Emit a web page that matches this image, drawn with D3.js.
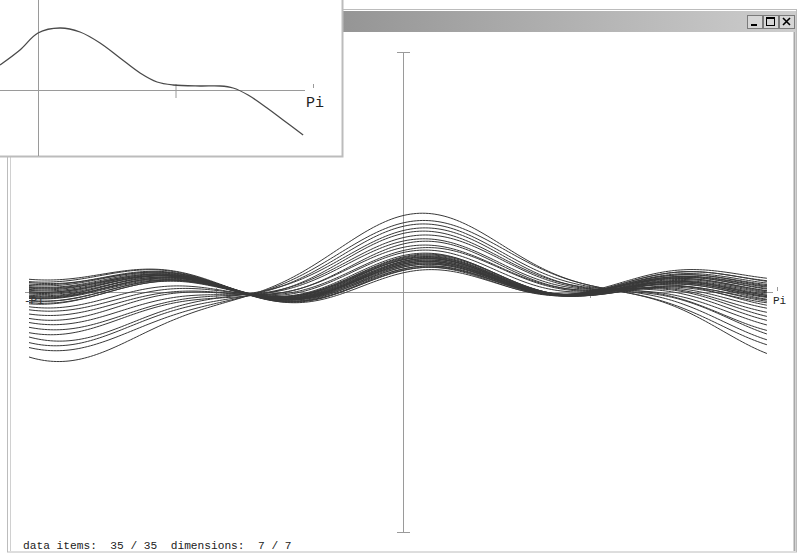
<!DOCTYPE html>
<html>
<head>
<meta charset="utf-8">
<script src="https://cdn.jsdelivr.net/npm/d3@7"></script>
<style>
  body { margin: 0; background: #fff; }
  svg { display: block; }
  text { font-family: "Liberation Mono", "DejaVu Sans Mono", monospace; fill: #222; }
</style>
</head>
<body>
<div id="chart"></div>
<script>
/*
 * Andrews curves of 35 items x 7 dimensions, drawn in an old style plot window.
 * f(t) = d1/sqrt2 + d2 sin t + d3 cos t + d4 sin 2t + d5 cos 2t + d6 sin 3t + d7 cos 3t
 */
(function() {
  // one array per dimension, one entry per data item
  var dim1 = [0.17, 0.31, 0.40, 0.48, 0.57, 0.64, 0.72, 0.79, 0.86, 0.92, 0.98, 1.49, 1.44, 1.41, 1.38, 1.35, 1.32, 1.29, 1.27, 1.24, 1.21, 1.23, 1.18, 1.15, 1.13, 1.10, 1.07, 1.04, 1.01, 0.98, 0.96, 0.93, 1.28, 1.12, 1.08];
  var dim2 = [1.55, 1.37, 1.24, 1.12, 1.01, 0.91, 0.79, 0.69, 0.60, 0.52, 0.43, 0.14, 0.10, 0.17, 0.12, 0.08, 0.15, 0.11, 0.13, 0.09, 0.12, 0.16, 0.10, 0.14, 0.11, 0.15, 0.09, 0.13, 0.17, 0.10, 0.14, 0.12, 0.18, 0.07, 0.15];
  var dim3 = [6.09, 5.36, 4.86, 4.41, 3.96, 3.57, 3.12, 2.72, 2.39, 2.05, 1.71, -0.62, -0.42, -0.32, -0.22, -0.12, -0.02, 0.08, 0.18, 0.28, 0.38, 0.40, 0.48, 0.58, 0.68, 0.78, 0.88, 0.98, 1.08, 1.18, 1.28, 1.38, 0.18, 0.68, 0.88];
  var dim4 = [-0.18, -0.01, -0.01, -0.06, 0.13, 0.12, 0.11, 0.22, 0.22, 0.32, 0.28, 0.43, 0.45, 0.39, 0.47, 0.42, 0.44, 0.41, 0.46, 0.43, 0.43, 0.40, 0.45, 0.42, 0.44, 0.41, 0.46, 0.43, 0.39, 0.47, 0.42, 0.44, 0.38, 0.48, 0.40];
  var dim5 = [0.45, 0.46, 0.47, 0.48, 0.49, 0.50, 0.51, 0.52, 0.52, 0.53, 0.54, 0.54, 0.59, 0.55, 0.57, 0.53, 0.58, 0.56, 0.54, 0.60, 0.56, 0.52, 0.58, 0.55, 0.57, 0.53, 0.59, 0.56, 0.54, 0.58, 0.55, 0.57, 0.61, 0.51, 0.55];
  var dim6 = [0.56, 0.47, 0.52, 0.63, 0.48, 0.55, 0.52, 0.58, 0.50, 0.56, 0.54, 0.56, 0.54, 0.59, 0.57, 0.53, 0.58, 0.55, 0.56, 0.60, 0.56, 0.52, 0.58, 0.54, 0.57, 0.55, 0.59, 0.53, 0.58, 0.56, 0.60, 0.54, 0.51, 0.61, 0.52];
  var dim7 = [0.98, 0.87, 0.95, 0.91, 1.00, 0.91, 0.95, 1.00, 0.94, 0.91, 1.00, 0.94, 0.99, 0.92, 0.97, 0.95, 1.00, 0.93, 1.00, 1.02, 1.00, 0.98, 1.03, 0.97, 1.01, 0.99, 1.04, 0.96, 1.02, 0.98, 1.00, 1.03, 0.95, 1.05, 1.01];

  // single curve shown in the small zoom window (t in radians, value)
  var insetT = [-0.434, -0.206, 0, 0.251, 0.48, 0.709, 0.937, 1.166, 1.36, 1.543, 1.851, 2.08, 2.229, 2.4, 2.617, 2.8, 3.029];
  var insetV = [2.5, 4.0, 5.7, 6.2, 5.8, 4.7, 3.2, 1.7, 0.8, 0.5, 0.4, 0.4, 0.2, -0.5, -1.8, -3.0, -4.5];

  var dims = [dim1, dim2, dim3, dim4, dim5, dim6, dim7];
  var items = dim1.map(function(d, i) {
    return dims.map(function(col) { return col[i]; });
  });

  var width = 800;
  var height = 554;
  var curveColor = '#383838';
  var axisColor = '#9a9a9a';
  var frameColor = '#bcbcbc';

  var svg = d3.select('#chart').append('svg').attr('width', width).attr('height', height);

  /*
   * Main window frame
   */
  var grad = svg.append('defs').append('linearGradient').attr('id', 'titleGrad');
  grad.append('stop').attr('offset', '0%').attr('stop-color', '#6c6c6c');
  grad.append('stop').attr('offset', '100%').attr('stop-color', '#cdcdcd');

  svg.append('rect')
    .attr('x', 7.5).attr('y', 9.5).attr('width', 789).attr('height', 542.5)
    .attr('fill', '#fff').attr('stroke', frameColor);
  svg.append('line')
    .attr('x1', 10.5).attr('x2', 10.5).attr('y1', 32).attr('y2', 551)
    .attr('stroke', '#d0d0d0');
  svg.append('line')
    .attr('x1', 794.5).attr('x2', 794.5).attr('y1', 32).attr('y2', 551)
    .attr('stroke', '#a8a8a8').attr('stroke-width', 2);
  svg.append('rect')
    .attr('x', 9).attr('y', 11).attr('width', 787).attr('height', 21)
    .attr('fill', 'url(#titleGrad)');

  var buttons = svg.append('g').attr('class', 'buttons');
  [747, 763, 779].forEach(function(bx, i) {
    var b = buttons.append('g').attr('transform', 'translate(' + bx + ',15)');
    b.append('rect').attr('x', 0.5).attr('y', 0.5).attr('width', 15).attr('height', 13)
      .attr('fill', '#d6d6d6').attr('stroke', '#7a7a7a');
    if (i === 0) {
      b.append('rect').attr('x', 4).attr('y', 9).attr('width', 6).attr('height', 2).attr('fill', '#000');
    } else if (i === 1) {
      b.append('rect').attr('x', 3.5).attr('y', 2.5).attr('width', 8).attr('height', 8)
        .attr('fill', 'none').attr('stroke', '#000');
      b.append('line').attr('x1', 3.5).attr('x2', 11.5).attr('y1', 3.5).attr('y2', 3.5).attr('stroke', '#000');
    } else {
      b.append('path').attr('d', 'M4,3L11,10M11,3L4,10').attr('stroke', '#000').attr('stroke-width', 1.6);
    }
  });

  /*
   * Main plot
   */
  var x = d3.scaleLinear().domain([-Math.PI, Math.PI]).range([29, 777]);
  var y = d3.scaleLinear().domain([-24, 24]).range([532, 52]);

  function andrews(row, t) {
    return row[0] / Math.SQRT2 +
      row[1] * Math.sin(t) + row[2] * Math.cos(t) +
      row[3] * Math.sin(2 * t) + row[4] * Math.cos(2 * t) +
      row[5] * Math.sin(3 * t) + row[6] * Math.cos(3 * t);
  }

  var axes = svg.append('g').attr('class', 'axes').attr('stroke', axisColor).attr('fill', 'none');
  axes.append('line')
    .attr('x1', x(-Math.PI) - 4).attr('x2', x(Math.PI) - 4)
    .attr('y1', y(0) + 0.5).attr('y2', y(0) + 0.5);
  axes.append('line')
    .attr('x1', x(0) + 0.5).attr('x2', x(0) + 0.5)
    .attr('y1', y(24)).attr('y2', y(-24));
  [24, -24].forEach(function(v) {
    axes.append('line')
      .attr('x1', x(0) - 6).attr('x2', x(0) + 7)
      .attr('y1', y(v) + 0.5).attr('y2', y(v) + 0.5);
  });
  [-Math.PI / 2, Math.PI / 2].forEach(function(t) {
    axes.append('line')
      .attr('x1', x(t) + 0.5).attr('x2', x(t) + 0.5)
      .attr('y1', y(0) - 4).attr('y2', y(0) + 6);
  });
  [-Math.PI, Math.PI].forEach(function(t) {
    axes.append('line')
      .attr('x1', x(t) + 0.5).attr('x2', x(t) + 0.5)
      .attr('y1', y(0) - 5).attr('y2', y(0) - 1);
  });

  svg.append('text').attr('x', x(Math.PI) - 4).attr('y', y(0) + 12)
    .attr('font-size', 11).text('Pi');
  svg.append('text').attr('x', x(-Math.PI) - 5).attr('y', y(0) + 12)
    .attr('font-size', 11).text('-Pi');

  // the original stops the curves one sampling step short of +Pi
  var tEnd = Math.PI * 0.973;
  var tSamples = d3.range(0, 241).map(function(i) {
    return -Math.PI + i * (tEnd + Math.PI) / 240;
  });
  var line = d3.line()
    .x(function(d) { return x(d[0]); })
    .y(function(d) { return y(d[1]); });

  svg.append('g').attr('class', 'curves')
    .selectAll('path')
    .data(items)
    .enter()
    .append('path')
    .attr('fill', 'none')
    .attr('stroke', curveColor)
    .attr('stroke-width', 1)
    .attr('d', function(row) {
      return line(tSamples.map(function(t) { return [t, andrews(row, t)]; }));
    });

  svg.append('text')
    .attr('x', 23).attr('y', 549)
    .attr('font-size', 11.2)
    .attr('xml:space', 'preserve')
    .style('white-space', 'pre')
    .text('data items:  ' + items.length + ' / ' + items.length +
      '  dimensions:  ' + dims.length + ' / ' + dims.length);

  /*
   * Small zoom window in the top left corner
   */
  var inset = svg.append('g').attr('class', 'inset');
  inset.append('clipPath').attr('id', 'insetClip')
    .append('rect').attr('x', 0).attr('y', 0).attr('width', 342).attr('height', 156);
  inset.append('rect')
    .attr('x', -1).attr('y', -1).attr('width', 343.5).attr('height', 157.5)
    .attr('fill', '#fff').attr('stroke', frameColor).attr('stroke-width', 2);

  var ix = d3.scaleLinear().domain([0, Math.PI]).range([38, 313]);
  var iy = d3.scaleLinear().domain([-9, 9]).range([180, 0]);

  var ig = inset.append('g').attr('clip-path', 'url(#insetClip)');
  ig.append('line')
    .attr('x1', 0).attr('x2', ix(Math.PI) - 8)
    .attr('y1', iy(0) + 0.5).attr('y2', iy(0) + 0.5).attr('stroke', axisColor);
  ig.append('line')
    .attr('x1', ix(0) + 0.5).attr('x2', ix(0) + 0.5)
    .attr('y1', 0).attr('y2', 157).attr('stroke', axisColor);
  ig.append('line')
    .attr('x1', ix(Math.PI / 2) + 0.5).attr('x2', ix(Math.PI / 2) + 0.5)
    .attr('y1', iy(0) - 6).attr('y2', iy(0) + 8).attr('stroke', axisColor);
  ig.append('line')
    .attr('x1', ix(Math.PI) + 0.5).attr('x2', ix(Math.PI) + 0.5)
    .attr('y1', iy(0) - 6).attr('y2', iy(0) - 2).attr('stroke', axisColor);
  ig.append('text')
    .attr('x', ix(Math.PI) - 7).attr('y', iy(0) + 17)
    .attr('font-size', 15).text('Pi');

  var insetLine = d3.line()
    .curve(d3.curveCatmullRom)
    .x(function(d) { return ix(d[0]); })
    .y(function(d) { return iy(d[1]); });
  ig.append('path')
    .attr('fill', 'none')
    .attr('stroke', '#4a4a4a')
    .attr('stroke-width', 1.3)
    .attr('d', insetLine(insetT.map(function(t, i) { return [t, insetV[i]]; })));
}).call(this);
</script>
</body>
</html>
